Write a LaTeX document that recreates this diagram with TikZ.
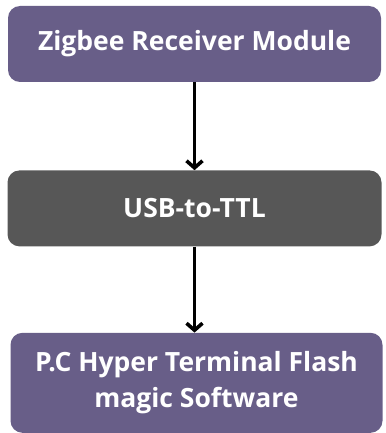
\documentclass[tikz,border=0pt]{standalone}
\usepackage{fontspec}
\setmainfont{Open Sans}
\usetikzlibrary{positioning}
\usetikzlibrary{arrows.meta}
\definecolor{boxPurple}{RGB}{104,94,136}
\definecolor{boxGray}{RGB}{87,87,87}
\tikzstyle{stageBox} = [draw=none, rounded corners = 12pt, text=white, font=\bfseries\fontsize{26.5}{36}\selectfont, align=center, inner sep=0pt]
\tikzstyle{purpleBox} = [stageBox, fill=boxPurple]
\tikzstyle{grayBox} = [stageBox, fill=boxGray]
\tikzstyle{flowArrow} = [-{Straight Barb[length=7pt, width=16pt]}, line width=3.6pt, black]

\begin{document}
\begin{tikzpicture}[x = 1pt, y = 1pt, node distance = 87pt]
          \useasboundingbox (0,0) rectangle (385,-433);
          \node [purpleBox, minimum width = 373pt, minimum height = 76pt] (zigbeeModule) at (194.5,-44) {Zigbee Receiver Module};
          \node [grayBox, minimum width = 374pt, minimum height = 76pt, below = 88pt of zigbeeModule] (usbTtl) {USB-to-TTL};
          \node [purpleBox, minimum width = 372pt, minimum height = 100pt, below = 86pt of usbTtl, xshift = 2pt] (pcSoftware) {P.C Hyper Terminal Flash\\magic Software};

          \draw [flowArrow] (zigbeeModule.south) -- (usbTtl.north);
          \draw [flowArrow] (usbTtl.south) -- (usbTtl.south |- pcSoftware.north);
        \end{tikzpicture}
\end{document}
